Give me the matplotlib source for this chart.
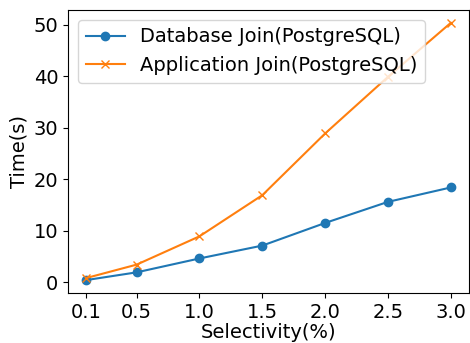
import matplotlib
matplotlib.use("Agg")
import matplotlib.pyplot as plt

selectivity = [0.1, 0.5, 1.0, 1.5, 2.0, 2.5, 3.0]
db_join = [0.4, 1.9, 4.6, 7.1, 11.5, 15.6, 18.4]
app_join = [0.8, 3.4, 8.9, 16.9, 28.9, 39.9, 50.4]

fig = plt.figure(figsize=(4.7, 3.43), dpi=100)
ax = fig.add_axes([0.145, 0.146, 0.853, 0.825])

ax.plot(selectivity, db_join, marker='o', label="Database Join(PostgreSQL)")
ax.plot(selectivity, app_join, marker='x', label="Application Join(PostgreSQL)")

ax.set_xticks(selectivity)
ax.set_xticklabels(["0.1", "0.5", "1.0", "1.5", "2.0", "2.5", "3.0"])
ax.tick_params(labelsize=14)
ax.set_xlabel("Selectivity(%)", fontsize=14, labelpad=1)
ax.set_ylabel("Time(s)", fontsize=14)
ax.legend(loc='upper left', fontsize=14)

fig.savefig("out.png", dpi=100)
